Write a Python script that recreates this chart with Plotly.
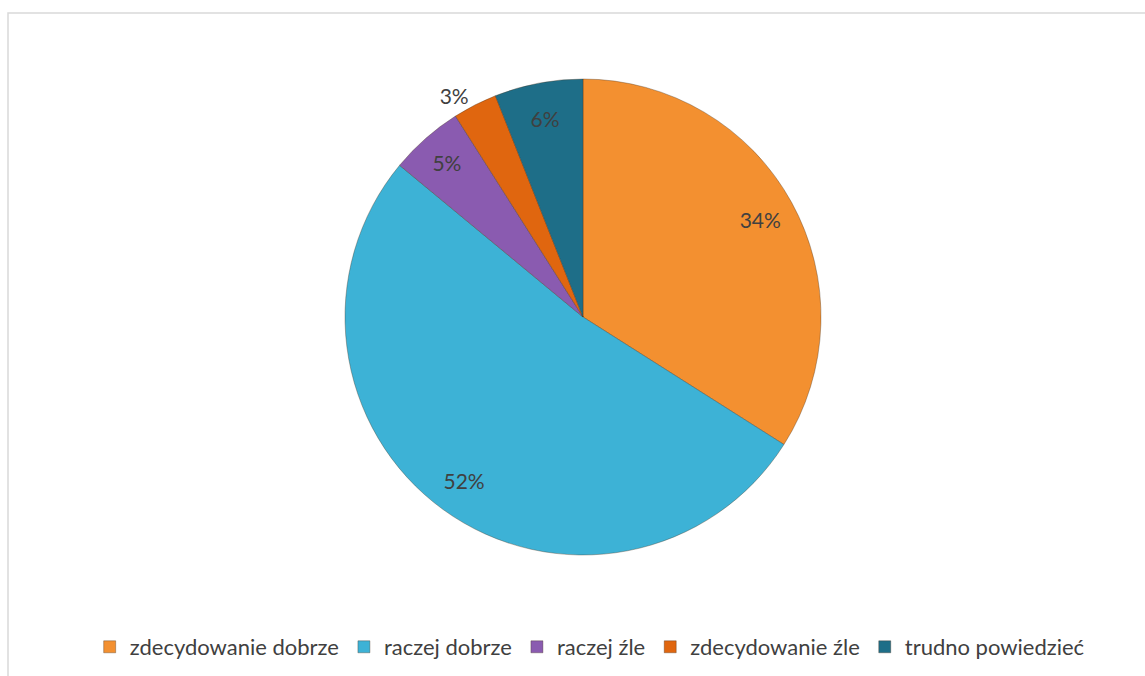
import plotly.graph_objects as go

categories = ["zdecydowanie dobrze", "raczej dobrze", "raczej źle", "zdecydowanie źle", "trudno powiedzieć"]
values = [34, 52, 5, 3, 6]
colors = ["#F39030", "#3DB2D6", "#8A5BB0", "#E0660F", "#1E6E88"]
text_positions = ["inside", "inside", "inside", "outside", "inside"]

W, H = 1145, 676
cx, cy, r = 583, 317, 238
dom = dict(x=[(cx - r) / W, (cx + r) / W], y=[(H - cy - r) / H, (H - cy + r) / H])
FONT = "Lato, Open Sans, sans-serif"

fig = go.Figure()
# coloured slices
fig.add_trace(go.Pie(
    labels=categories, values=values, sort=False, direction="clockwise", rotation=0,
    marker=dict(colors=colors, line=dict(color="rgba(70,50,30,0.35)", width=1)),
    textinfo="none", domain=dom, hoverinfo="label+percent", showlegend=True,
))
# transparent ring carrying the labels near the rim
fig.add_trace(go.Pie(
    labels=categories, values=values, sort=False, direction="clockwise", rotation=0,
    hole=0.7,
    marker=dict(colors=["rgba(0,0,0,0)"] * len(values), line=dict(width=0)),
    texttemplate="%{percent:.0%}", textposition=text_positions,
    insidetextorientation="horizontal",
    textfont=dict(family=FONT, size=21, color="#404040"),
    outsidetextfont=dict(family=FONT, size=21, color="#404040"),
    domain=dom, hoverinfo="skip", showlegend=False,
))

fig.update_layout(
    width=W, height=H,
    margin=dict(l=0, r=0, t=0, b=0),
    paper_bgcolor="white", plot_bgcolor="white",
    showlegend=True,
    legend=dict(
        orientation="h", x=0.515, xanchor="center",
        y=(H - 647) / H, yanchor="middle",
        font=dict(family=FONT, size=22, color="#404040"),
        traceorder="normal",
    ),
    shapes=[dict(type="rect", xref="paper", yref="paper",
                 x0=8 / W, x1=1.01, y0=-0.01, y1=(H - 13) / H,
                 line=dict(color="#D9D9D9", width=1.5), fillcolor="rgba(0,0,0,0)", layer="below")],
)

fig.write_html("out.html")
